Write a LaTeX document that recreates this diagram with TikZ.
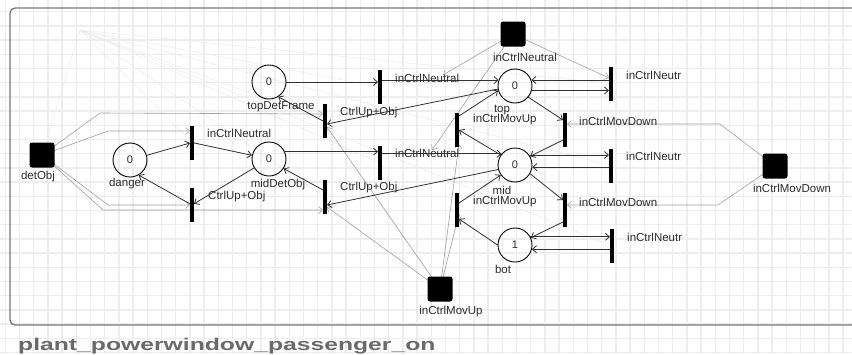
\documentclass[tikz,border=0pt]{standalone}
\usepackage{fontspec}
\setmainfont{Liberation Sans}
\usetikzlibrary{arrows.meta}
\definecolor{labgray}{HTML}{2C2C2C}
\definecolor{arcgray}{HTML}{303030}
\definecolor{lightarc}{HTML}{A0A0A0}
\definecolor{ghost}{HTML}{EAEAEA}
\definecolor{gridc}{HTML}{EDEDED}
\definecolor{framec}{HTML}{777777}
\definecolor{titlec}{HTML}{6A6A6A}
\pgfdeclarelayer{gridl}
\pgfdeclarelayer{bg}
\pgfsetlayers{gridl,bg,main}
\begin{document}
\begin{tikzpicture}[x=1pt,y=-1pt,
  place/.style={circle,draw=black,line width=0.9pt,minimum size=34pt,inner sep=0pt,font=\fontsize{11}{12}\selectfont,text=labgray},
  sig/.style={rectangle,rounded corners=2.5pt,fill=black,minimum size=25pt,inner sep=0pt},
  trans/.style={rectangle,fill=black,minimum width=3.6pt,minimum height=34pt,inner sep=0pt},
  lbl/.style={text=labgray,font=\fontsize{11.5}{12}\selectfont,inner sep=0pt},
  arc/.style={draw=arcgray,line width=0.8pt,-{Straight Barb[length=4pt,width=7pt]}},
  rarc/.style={draw=lightarc,line width=0.6pt,-{Straight Barb[length=4pt,width=7pt]}},
  ghostline/.style={draw=ghost,line width=0.5pt},
]
\useasboundingbox (0,0) rectangle (852,354);
\begin{pgfonlayer}{gridl}
\fill[white] (0,0) rectangle (852,354);
\foreach \i in {0,...,60} \draw[gridc,line width=1.3pt] (5.3+\i*14.2,0) -- (5.3+\i*14.2,354);
\foreach \j in {0,...,25} \draw[gridc,line width=1.3pt] (0,-2.5+\j*14.2) -- (852,-2.5+\j*14.2);
\draw[framec,line width=1.3pt,rounded corners=5pt] (10,8) rectangle (880,325);
\end{pgfonlayer}

% places
\node[place] (danger) at (130,160) {0};
\node[place] (midDetObj) at (269,159) {0};
\node[place] (topDetFrame) at (269,82) {0};
\node[place] (top) at (515,86) {0};
\node[place] (mid) at (515,165) {0};
\node[place] (bot) at (515,245) {1};
% signal squares
\node[sig] (detObj) at (42,155) {};
\node[sig] (inN) at (513,34) {};
\node[sig] (inMD) at (775,166) {};
\node[sig] (inMU) at (440,289) {};
% transitions
\node[trans] (t1) at (192,142.5) {};
\node[trans] (t2) at (192,205) {};
\node[trans] (t3) at (380,87) {};
\node[trans] (t4) at (325,121) {};
\node[trans] (t5) at (380,163) {};
\node[trans] (t6) at (325,197) {};
\node[trans] (t7) at (457,130) {};
\node[trans] (t8) at (457,210) {};
\node[trans] (t9) at (565,130) {};
\node[trans] (t10) at (565,210) {};
\node[trans] (t11) at (611,83.5) {};
\node[trans] (t12) at (611,165.5) {};
\node[trans] (t13) at (612,246) {};

% labels
\node[lbl] (ldetObj) at (38,177) {detObj};
\node[lbl] (ldanger) at (127,184) {danger};
\node[lbl] (lmidDetObj) at (278,185) {midDetObj};
\node[lbl] (ltopDetFrame) at (281,107) {topDetFrame};
\node[lbl] (ltop) at (502,110) {top};
\node[lbl] (lmid) at (502,190) {mid};
\node[lbl] (lbot) at (503,269) {bot};
\node[lbl] (linN) at (525,57) {inCtrlNeutral};
\node[lbl] (linMD) at (792,188) {inCtrlMovDown};
\node[lbl] (linMU) at (451,312) {inCtrlMovUp};
\node[lbl,anchor=west] (l1) at (207,133) {inCtrlNeutral};
\node[lbl,anchor=west] (l2) at (208,197) {CtrlUp+Obj};
\node[lbl,anchor=west] (l3) at (395,78) {inCtrlNeutral};
\node[lbl,anchor=west] (l4) at (340,113) {CtrlUp+Obj};
\node[lbl,anchor=west] (l5) at (395,153) {inCtrlNeutral};
\node[lbl,anchor=west] (l6) at (340,188) {CtrlUp+Obj};
\node[lbl,anchor=west] (l7) at (473,120) {inCtrlMovUp};
\node[lbl,anchor=west] (l8) at (473,202) {inCtrlMovUp};
\node[lbl,anchor=west] (l9) at (579,121) {inCtrlMovDown};
\node[lbl,anchor=west] (l10) at (579,202) {inCtrlMovDown};
\node[lbl,anchor=west] (l11) at (626,75) {inCtrlNeutr};
\node[lbl,anchor=west] (l12) at (626,156) {inCtrlNeutr};
\node[lbl,anchor=west] (l13) at (627,237) {inCtrlNeutr};

% title
\node[anchor=base west,inner sep=0pt,text=titlec,font=\fontsize{17}{18}\selectfont\bfseries] (title) at (18,350) {\scalebox{1.453}[1]{plant\_powerwindow\_passenger\_on}};

\begin{pgfonlayer}{bg}
% ghost fan
\coordinate (g) at (80,30);
\foreach \p in {t1,t3,t5,t4,t6,t11,t12,t13}
  \draw[ghostline] (g) -- (\p);
\draw[ghostline] (g) -- (detObj);
% signal arcs: detObj
\draw[rarc] (detObj.center) -- (100,113) -- (t4.west |- 0,114);
\draw[rarc] (detObj.center) -- (108,131) -- (t1.west |- 0,131);
\draw[rarc] (detObj.center) -- (108,205) -- (t2.west |- 0,205);
\draw[rarc] (detObj.center) -- (103,210) -- (t6.west |- 0,210);
% inCtrlMovDown
\draw[rarc] (inMD.center) -- (720,124) -- (t9.east |- 0,124);
\draw[rarc] (inMD.center) -- (718,205) -- (t10.east |- 0,205);
% inCtrlMovUp
\draw[rarc] (inMU.center) -- ([yshift=-6pt]t4.east);
\draw[rarc] (inMU.center) -- ([yshift=-10pt]t6.east);
\draw[rarc] (inMU.center) -- ([yshift=-4pt]t8.east);
\draw[rarc] (inMU.center) -- ([yshift=-14pt]t7.east);
% inCtrlNeutral
\draw[rarc] (inN.center) -- ([yshift=5.5pt]t11.west);
\coordinate (c3) at (443,75);
\coordinate (c5) at (432,150);
\draw[rarc] (inN.center) -- (c3);
\draw[rarc] (inN.center) -- (c5);
\end{pgfonlayer}

% dark arcs
\draw[arc] (danger) -- (t1);
\draw[arc] (t1) -- (midDetObj);
\draw[arc] (midDetObj) -- (t2);
\draw[arc] (t2) -- (danger.-60);
\draw[arc] (topDetFrame.east) -- (t3.west |- topDetFrame.east);
\draw[arc] (t3.east |- top.160) -- (top.160);
\draw[arc] (top.190) -- ([yshift=-3pt]t4.east);
\draw[arc] (t4.west) -- (topDetFrame.-58);
\draw[arc] (midDetObj.25) -- (t5.west |- midDetObj.25);
\draw[arc] (t5.east |- mid.140) -- (mid.140);
\draw[arc] (mid.195) -- ([yshift=-8pt]t6.east);
\draw[arc] ([yshift=7pt]t6.west) -- (midDetObj.-33);
\draw[arc] (mid.145) -- (t7.east);
\draw[arc] ([yshift=14pt]t7.east) -- (top.195);
\draw[arc] (top.-40) -- ([yshift=10pt]t9.west);
\draw[arc] ([yshift=-10pt]t9.west) -- (mid.30);
\draw[arc] (mid.-30) -- ([yshift=10pt]t10.west);
\draw[arc] ([yshift=-12pt]t10.west) -- (bot.25);
\draw[arc] (bot.west) -- ([yshift=-9pt]t8.east);
\draw[arc] ([yshift=7pt]t8.east) -- (mid.-145);
\draw[arc] (top.-15) -- (t11.west |- top.-15);
\draw[arc] (t11.west |- top.20) -- (top.20);
\draw[arc] (mid.35) -- (t12.west |- mid.35);
\draw[arc] (t12.west |- mid.-7) -- (mid.-7);
\draw[arc] (bot.28) -- (t13.west |- bot.28);
\draw[arc] (t13.west |- bot.-14) -- (bot.-14);
\end{tikzpicture}
\end{document}
